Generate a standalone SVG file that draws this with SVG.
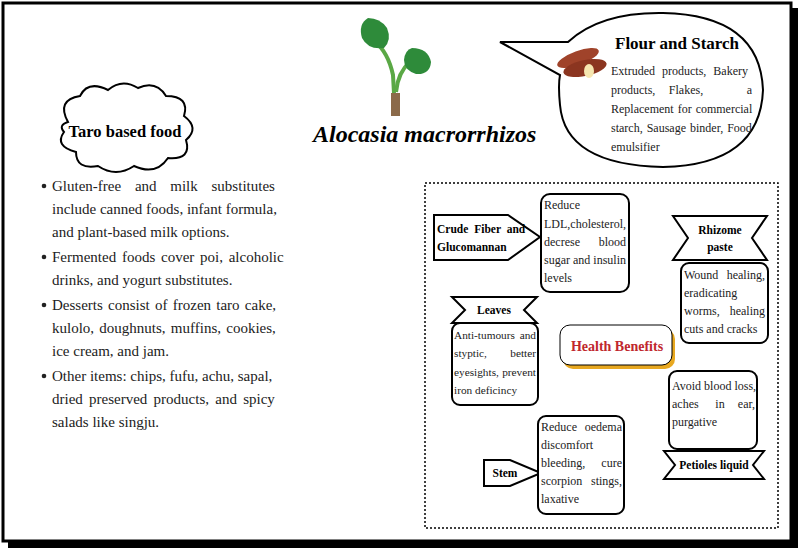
<svg xmlns="http://www.w3.org/2000/svg" width="803" height="552" viewBox="0 0 803 552">
<defs>
<style>
text{font-family:"Liberation Serif","Times New Roman",serif;fill:#222}
.b{font-size:15px}
.s{font-size:12px}
.t{font-size:11.3px}
.h{font-size:11.5px;font-weight:bold;fill:#000}
.e{text-anchor:end}
.sh{fill:#fff;stroke:#000;stroke-width:2}
</style>
</defs>
<rect width="803" height="552" fill="#fff"/>
<rect x="8" y="8" width="790" height="540" fill="#000"/>
<rect x="3" y="3" width="788" height="538" fill="#fff" stroke="#000" stroke-width="3"/>

<g id="plant">
<path d="M395 112 L393 75 Q388 52 375 42" stroke="#5aa845" stroke-width="4" fill="none"/>
<path d="M396 92 Q398 72 410 62" stroke="#5aa845" stroke-width="4" fill="none"/>
<path d="M368 18 Q358 24 362 38 Q368 50 384 48 Q392 40 387 28 Q380 18 368 18Z" fill="#2e8b3a"/>
<path d="M412 48 Q428 48 431 62 Q430 75 416 74 Q404 70 404 60 Q405 50 412 48Z" fill="#2e8b3a"/>
<rect x="391" y="93" width="9" height="23" fill="#8b6a4a"/>
</g>
<text x="313" y="142" style="font-size:24px;font-style:italic;font-weight:bold;fill:#000">Alocasia macrorrhizos</text>

<g id="flour">
<path class="sh" d="M500 42 L568 42 Q600 12 663 13 Q760 15 763 90 Q760 165 663 167 Q565 165 560 105 Q558 85 560 75 Z"/>
<g>
<ellipse cx="578" cy="58" rx="22" ry="7" fill="#a0432a" transform="rotate(-20 578 58)"/>
<ellipse cx="585" cy="68" rx="22" ry="8" fill="#8b3520" transform="rotate(-12 585 68)"/>
<ellipse cx="589" cy="71" rx="5" ry="7" fill="#f5e6b0"/>
</g>
<text x="615" y="49" style="font-size:17px;font-weight:bold;fill:#000">Flour and Starch</text>
<text class="s" x="611" y="75" word-spacing="4">Extruded products, Bakery</text>
<text class="s" x="611" y="94">products,</text><text class="s" x="686" y="94" text-anchor="middle">Flakes,</text><text class="s e" x="752" y="94">a</text>
<text class="s" x="611" y="113" word-spacing="1">Replacement for commercial</text>
<text class="s" x="611" y="132" word-spacing="1">starch, Sausage binder, Food</text>
<text class="s" x="611" y="151">emulsifier</text>
</g>

<g id="taro">
<path class="sh" d="M68 122 Q56 100 80 96 Q88 80 108 90 Q122 78 138 88 Q156 80 166 96 Q190 96 184 116 Q200 128 186 140 Q192 160 168 158 Q156 176 134 166 Q116 178 98 166 Q76 170 76 152 Q54 146 64 132 Q58 125 68 122Z"/>
<text x="125" y="137" text-anchor="middle" style="font-size:16.5px;font-weight:bold;fill:#000">Taro based food</text>
</g>
<g id="list">
<circle cx="44" cy="186" r="2.3" fill="#222"/>
<circle cx="44" cy="257" r="2.3" fill="#222"/>
<circle cx="44" cy="305" r="2.3" fill="#222"/>
<circle cx="44" cy="376" r="2.3" fill="#222"/>
<text class="b" x="52" y="191" word-spacing="10">Gluten-free and milk substitutes</text>
<text class="b" x="52" y="214">include canned foods, infant formula,</text>
<text class="b" x="52" y="237">and plant-based milk options.</text>
<text class="b" x="52" y="262" word-spacing="2">Fermented foods cover poi, alcoholic</text>
<text class="b" x="52" y="285">drinks, and yogurt substitutes.</text>
<text class="b" x="52" y="310" word-spacing="1.5">Desserts consist of frozen taro cake,</text>
<text class="b" x="52" y="333" word-spacing="1.5">kulolo, doughnuts, muffins, cookies,</text>
<text class="b" x="52" y="356">ice cream, and jam.</text>
<text class="b" x="52" y="381">Other items: chips, fufu, achu, sapal,</text>
<text class="b" x="52" y="404" word-spacing="2.5">dried preserved products, and spicy</text>
<text class="b" x="52" y="427">salads like singju.</text>
</g>

<rect x="425" y="183" width="353" height="345" fill="none" stroke="#000" stroke-width="1.5" stroke-dasharray="2 2"/>

<g id="crude">
<path class="sh" d="M434 215 L508 215 L540 237 L508 260 L434 260Z"/>
<text class="h" x="437" y="233" word-spacing="3">Crude Fiber and</text>
<text class="h" x="437" y="251">Glucomannan</text>
</g>
<g id="box1">
<rect class="sh" x="541" y="194" width="88" height="98" rx="9"/>
<text class="s" x="544" y="209">Reduce</text>
<text class="s" x="544" y="228">LDL,cholesterol,</text>
<text class="s" x="544" y="246">decrese</text><text class="s e" x="626" y="246">blood</text>
<text class="s" x="544" y="264">sugar and insulin</text>
<text class="s" x="544" y="282">levels</text>
</g>
<g id="rhizome">
<path class="sh" d="M673 216 L767 216 L752 238 L767 260 L673 260 L688 238Z"/>
<text class="h" x="720" y="234" text-anchor="middle">Rhizome</text>
<text class="h" x="720" y="251" text-anchor="middle">paste</text>
</g>
<g id="box2">
<rect class="sh" x="681" y="263" width="87" height="80" rx="8"/>
<text class="s" x="684" y="279">Wound</text><text class="s e" x="765" y="279">healing,</text>
<text class="s" x="684" y="297">eradicating</text>
<text class="s" x="684" y="315">worms,</text><text class="s e" x="765" y="315">healing</text>
<text class="s" x="684" y="333">cuts and cracks</text>
</g>
<g id="leaves">
<path class="sh" d="M452 297 L537 297 L524 310 L537 323 L452 323 L465 310Z"/>
<text class="h" x="494" y="314" text-anchor="middle">Leaves</text>
</g>
<g id="box3">
<rect class="sh" x="452" y="323" width="86" height="82" rx="8"/>
<text class="t" x="454" y="339">Anti-tumours</text><text class="t e" x="536" y="339">and</text>
<text class="t" x="454" y="357">styptic,</text><text class="t e" x="536" y="357">better</text>
<text class="t" x="454" y="376">eyesights,</text><text class="t e" x="536" y="376">prevent</text>
<text class="t" x="454" y="394">iron deficincy</text>
</g>
<g id="health">
<rect x="563" y="329" width="112" height="40" rx="10" fill="#e8a820"/>
<rect x="560" y="325" width="112" height="40" rx="10" fill="#fff" stroke="#000" stroke-width="1"/>
<text x="617" y="351" text-anchor="middle" style="font-size:14px;font-weight:bold;fill:#c0272d">Health Benefits</text>
</g>
<g id="box4">
<rect class="sh" x="669" y="371" width="88" height="78" rx="8"/>
<text class="s" x="672" y="390">Avoid blood loss,</text>
<text class="s" x="672" y="408">aches</text><text class="s" x="720" y="408" text-anchor="middle">in</text><text class="s e" x="755" y="408">ear,</text>
<text class="s" x="672" y="426">purgative</text>
</g>
<g id="petioles">
<path class="sh" d="M664 451 L764 451 L753 465 L764 479 L664 479 L675 465Z"/>
<text class="h" x="714" y="469" text-anchor="middle">Petioles liquid</text>
</g>
<g id="stem">
<path class="sh" d="M484 460 L510 460 L541 473 L510 486 L484 486Z"/>
<text class="h" x="505" y="477" text-anchor="middle">Stem</text>
</g>
<g id="box5">
<rect class="sh" x="538" y="416" width="86" height="98" rx="8"/>
<text class="s" x="541" y="431">Reduce</text><text class="s e" x="622" y="431">oedema</text>
<text class="s" x="541" y="449">discomfort</text>
<text class="s" x="541" y="467">bleeding,</text><text class="s e" x="622" y="467">cure</text>
<text class="s" x="541" y="485">scorpion</text><text class="s e" x="622" y="485">stings,</text>
<text class="s" x="541" y="503">laxative</text>
</g>
<g id="connectors"></g>
</svg>
